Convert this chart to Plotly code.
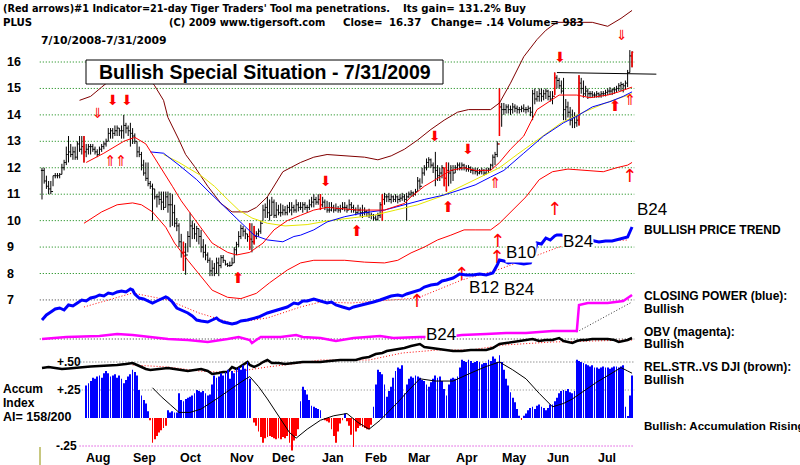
import plotly.graph_objects as go

# ---------------- DATA ----------------
# trading-day index 0 = 7/10/2008 ... 267 = 7/31/2009
high = [
 12.0, 12.0, 11.7, 11.5, 11.5, 11.7, 11.8, 11.8, 11.8, 12.15,
 12.3, 12.8, 13.2, 12.9, 12.8, 12.8, 13.0, 13.2, 13.2, 13.2,
 12.9, 12.9, 12.9, 12.9, 12.8, 12.7, 12.8, 12.9, 13.0, 13.1,
 13.5, 13.5, 13.5, 13.6, 13.6, 13.5, 13.6, 14.0, 13.7, 13.6,
 13.7, 13.5, 13.3, 13.0, 12.8, 12.6, 12.3, 12.2, 12.2, 11.5,
 11.4, 11.2, 11.0, 11.1, 11.1, 11.1, 11.1, 11.1, 11.05, 11.0,
 10.6, 10.1, 9.9, 9.5, 9.2, 9.15, 9.6, 10.3, 10.0, 9.9,
 9.8, 9.7, 9.65, 9.3, 9.1, 8.8, 8.6, 8.5, 8.4, 8.6,
 8.6, 8.7, 8.7, 8.5, 8.4, 8.45, 8.6, 9.0, 9.2, 9.6,
 9.85, 9.8, 9.7, 9.5, 9.9, 9.9, 9.8, 9.6, 9.7, 10.0,
 10.6, 10.65, 10.9, 10.8, 10.9, 10.8, 10.7, 10.6, 10.65, 10.6,
 10.55, 10.6, 10.7, 10.7, 10.6, 10.8, 10.7, 10.7, 10.7, 10.7,
 10.6, 10.8, 10.9, 11.0, 10.9, 11.0, 11.0, 10.9, 10.8, 10.75,
 10.7, 10.7, 10.6, 10.65, 10.55, 10.6, 10.7, 10.7, 10.6, 10.8,
 10.7, 10.6, 10.5, 10.6, 10.5, 10.6, 10.5, 10.4, 10.45, 10.3,
 10.25, 10.2, 10.3, 10.7, 11.0, 11.05, 11.0, 11.05, 11.0, 10.95,
 11.0, 10.95, 11.0, 11.05, 11.0, 11.05, 11.1, 11.15, 11.1, 11.2,
 11.65, 11.6, 12.0, 12.1, 12.35, 12.4, 12.35, 12.2, 12.6, 12.1,
 12.0, 12.1, 12.0, 12.2, 12.2, 12.1, 12.1, 12.1, 12.2, 12.2,
 12.2, 12.15, 12.1, 12.1, 12.05, 12.0, 12.0, 12.0, 11.95, 12.0,
 11.95, 12.0, 12.0, 12.15, 12.5, 12.6, 13.0, 15.0, 14.45, 14.45,
 14.4, 14.4, 14.35, 14.45, 14.4, 14.35, 14.3, 14.35, 14.4, 14.3,
 14.35, 14.3, 14.95, 15.0, 14.9, 15.0, 15.0, 14.95, 15.0, 14.95,
 14.9, 14.9, 15.6, 15.5, 15.4, 15.3, 15.4, 14.6, 14.5, 14.3,
 14.2, 14.1, 14.0, 15.5, 15.4, 15.3, 15.1, 15.0, 14.9, 14.9,
 14.85, 14.9, 14.85, 14.9, 14.9, 14.95, 15.0, 15.05, 15.0, 15.05,
 15.1, 15.2, 15.25, 15.2, 15.3, 15.7, 16.45, 16.4]
low = [
 10.8, 11.4, 11.2, 11.0, 11.0, 11.3, 11.6, 11.6, 11.6, 11.75,
 11.9, 12.1, 12.2, 12.4, 12.3, 12.3, 12.3, 12.6, 12.5, 12.2,
 12.4, 12.5, 12.5, 12.6, 12.5, 12.4, 12.5, 12.6, 12.7, 12.8,
 13.0, 13.1, 13.1, 13.2, 13.2, 13.2, 13.1, 13.1, 13.3, 13.2,
 12.8, 12.9, 12.9, 12.4, 12.4, 11.9, 11.7, 11.5, 11.3, 11.2,
 10.0, 10.8, 10.5, 10.6, 10.4, 10.4, 10.5, 10.3, 9.75, 9.8,
 9.75, 9.6, 9.0, 8.6, 8.1, 7.95, 8.8, 9.0, 9.3, 9.3,
 9.2, 9.1, 8.8, 8.6, 8.5, 8.4, 7.9, 7.9, 7.9, 8.0,
 7.9, 8.2, 8.4, 8.3, 8.25, 8.25, 8.3, 8.4, 8.7, 9.0,
 9.3, 9.4, 9.3, 9.2, 8.9, 8.8, 9.1, 9.3, 9.4, 9.5,
 10.0, 10.1, 10.1, 10.0, 10.2, 10.1, 10.1, 10.2, 10.15, 10.2,
 10.2, 10.2, 10.3, 10.2, 10.3, 10.3, 10.35, 10.4, 10.3, 10.4,
 10.3, 10.4, 10.5, 10.5, 10.6, 10.6, 10.4, 10.5, 10.4, 10.3,
 10.3, 10.35, 10.3, 10.35, 10.3, 10.3, 10.4, 10.35, 10.3, 10.4,
 10.3, 10.3, 10.2, 10.25, 10.15, 10.1, 10.2, 10.15, 10.1, 10.05,
 10.0, 10.0, 10.0, 10.1, 10.0, 10.6, 10.7, 10.7, 10.65, 10.7,
 10.7, 10.65, 10.7, 10.75, 10.7, 10.0, 10.85, 10.9, 10.9, 10.95,
 11.1, 11.2, 11.4, 11.7, 11.9, 12.0, 12.0, 11.8, 11.3, 11.5,
 11.5, 11.6, 11.3, 11.1, 11.3, 11.4, 11.5, 11.8, 11.9, 11.9,
 11.9, 11.9, 11.85, 11.85, 11.8, 11.75, 11.75, 11.7, 11.75, 11.75,
 11.7, 11.75, 11.8, 11.9, 12.0, 12.1, 12.4, 13.2, 13.55, 14.0,
 14.05, 14.05, 14.0, 14.05, 14.1, 14.05, 14.05, 14.1, 14.1, 14.05,
 14.1, 13.95, 13.8, 14.4, 14.5, 14.5, 14.5, 14.55, 14.6, 14.55,
 14.5, 14.4, 14.75, 15.0, 15.0, 14.8, 13.8, 13.8, 13.9, 13.6,
 13.5, 13.5, 13.55, 13.6, 14.8, 14.65, 14.7, 14.6, 14.65, 14.65,
 14.65, 14.65, 14.65, 14.65, 14.7, 14.7, 14.75, 14.75, 14.75, 14.8,
 14.85, 14.9, 14.9, 14.85, 14.95, 15.05, 15.6, 15.8]
close = [
 11.9, 11.5, 11.3, 11.2, 11.1, 11.7, 11.7, 11.7, 11.75, 12.0,
 12.2, 12.5, 12.6, 12.5, 12.6, 12.4, 12.9, 12.7, 12.8, 12.6,
 12.7, 12.8, 12.8, 12.7, 12.6, 12.5, 12.7, 12.8, 12.9, 13.0,
 13.3, 13.4, 13.3, 13.4, 13.5, 13.4, 13.4, 13.6, 13.5, 13.4,
 13.3, 13.2, 13.0, 12.6, 12.5, 12.1, 11.8, 11.6, 11.4, 11.3,
 11.2, 10.9, 10.9, 10.8, 10.7, 10.5, 10.9, 10.6, 10.6, 10.3,
 9.9, 9.8, 9.2, 8.8, 8.8, 8.7, 9.4, 9.8, 9.7, 9.5,
 9.7, 9.4, 9.0, 8.8, 8.7, 8.5, 8.1, 8.2, 8.0, 8.4,
 8.3, 8.6, 8.5, 8.35, 8.3, 8.3, 8.4, 8.9, 9.1, 9.4,
 9.7, 9.6, 9.5, 9.4, 9.3, 9.2, 9.4, 9.5, 9.6, 9.9,
 10.4, 10.5, 10.3, 10.2, 10.7, 10.2, 10.4, 10.3, 10.3, 10.4,
 10.3, 10.5, 10.4, 10.5, 10.4, 10.6, 10.5, 10.5, 10.6, 10.5,
 10.5, 10.6, 10.7, 10.8, 10.7, 10.8, 10.6, 10.7, 10.5, 10.4,
 10.4, 10.5, 10.4, 10.45, 10.4, 10.45, 10.5, 10.5, 10.4, 10.6,
 10.5, 10.4, 10.3, 10.4, 10.3, 10.3, 10.35, 10.3, 10.2, 10.2,
 10.1, 10.05, 10.2, 10.6, 10.8, 10.9, 10.9, 10.8, 10.9, 10.8,
 10.9, 10.8, 10.85, 10.9, 10.8, 10.9, 11.0, 11.05, 11.0, 11.1,
 11.5, 11.3, 11.8, 12.0, 12.2, 12.3, 12.1, 12.0, 11.9, 11.7,
 11.8, 12.0, 11.6, 11.9, 11.8, 11.9, 11.8, 12.0, 12.1, 12.0,
 12.1, 12.0, 11.95, 12.0, 11.9, 11.9, 11.85, 11.8, 11.85, 11.9,
 11.8, 11.9, 11.95, 12.1, 12.4, 12.5, 12.9, 14.3, 14.2, 14.2,
 14.3, 14.2, 14.2, 14.3, 14.25, 14.2, 14.2, 14.25, 14.2, 14.2,
 14.25, 14.1, 14.8, 14.6, 14.7, 14.8, 14.7, 14.8, 14.9, 14.7,
 14.6, 14.7, 15.4, 15.3, 15.1, 14.9, 14.2, 14.3, 14.1, 13.8,
 13.9, 13.7, 13.8, 15.2, 15.0, 14.8, 14.9, 14.8, 14.8, 14.75,
 14.75, 14.8, 14.75, 14.8, 14.8, 14.85, 14.9, 14.9, 14.95, 14.95,
 15.0, 15.1, 15.15, 15.1, 15.2, 15.6, 16.23, 16.37]
red_bar_idx = [19, 64, 94, 96, 126, 154, 182, 183, 207, 232, 243, 267]

# moving averages / bands (sampled, trading-day index -> price)
ma21_idx = [20, 28, 37, 42, 47, 52, 59, 63, 67, 72, 77, 84, 88, 94, 100, 105, 111, 117, 123, 129, 143,
            155, 164, 167, 173, 179, 185, 191, 196, 203, 207, 212, 218, 224, 230, 234, 242, 248, 256, 261, 267]
ma21_val = [12.2, 12.55, 13.0, 13.15, 12.9, 12.25, 11.3, 10.75, 10.3, 9.75, 9.15, 8.8, 8.7, 8.8, 9.15, 9.65,
            10.0, 10.2, 10.4, 10.5, 10.4, 10.4, 10.65, 10.9, 11.3, 11.6, 11.9, 12.0, 11.9, 11.9, 12.2, 12.7,
            13.2, 14.2, 14.55, 14.75, 14.75, 14.65, 14.75, 14.87, 15.05]
ma50_idx = [49, 55, 62, 70, 76, 84, 90, 96, 102, 109, 114, 117, 123, 129, 137, 146, 155, 164, 173, 182,
            191, 196, 203, 209, 218, 227, 236, 242, 249, 257, 263, 267]
ma50_val = [12.6, 12.55, 12.1, 11.55, 11.05, 10.4, 9.9, 9.45, 9.27, 9.2, 9.4, 9.45, 9.65, 9.95, 10.15, 10.3,
            10.4, 10.6, 10.8, 10.97, 11.2, 11.35, 11.65, 11.9, 12.55, 13.2, 13.7, 13.95, 14.3, 14.5, 14.7, 14.87]
ma65_idx = [55, 62, 72, 78, 84, 89, 95, 102, 110, 120, 130, 140, 150, 160, 170, 180, 190, 200, 207, 215,
            225, 235, 245, 255, 267]
ma65_val = [12.5, 12.2, 11.7, 11.3, 10.8, 10.4, 10.1, 9.9, 9.8, 9.85, 10.0, 10.1, 10.2, 10.4, 10.6, 10.9,
            11.3, 11.7, 12.0, 12.5, 13.1, 13.7, 14.1, 14.45, 14.8]
upper_idx = [17, 22, 27, 35, 45, 51, 55, 57, 62, 65, 69, 75, 81, 86, 93, 97, 102, 109, 117, 123, 129, 137,
             146, 152, 158, 164, 170, 176, 182, 188, 193, 203, 207, 212, 218, 224, 228, 233, 240, 249, 256, 262, 267]
upper_val = [14.55, 14.7, 15.05, 15.6, 15.8, 15.1, 14.55, 13.9, 13.05, 12.5, 12.05, 11.3, 10.65, 10.33, 10.33,
             10.5, 10.9, 11.85, 12.2, 12.4, 12.5, 12.45, 12.4, 12.3, 12.45, 12.7, 13.05, 13.45, 13.8, 14.1, 14.2,
             14.2, 14.45, 15.2, 16.2, 16.85, 17.2, 17.5, 17.5, 17.5, 17.35, 17.65, 17.95]
lower_idx = [19, 27, 34, 41, 45, 50, 56, 60, 66, 72, 77, 84, 90, 97, 103, 111, 117, 123, 129, 137, 146, 155,
             161, 167, 173, 179, 185, 191, 196, 203, 207, 213, 219, 225, 231, 238, 245, 254, 260, 265, 267]
lower_val = [9.9, 10.33, 10.6, 10.67, 10.6, 10.33, 9.75, 9.15, 8.5, 7.87, 7.37, 7.1, 7.05, 7.25, 7.65, 8.13,
             8.4, 8.5, 8.5, 8.5, 8.43, 8.4, 8.5, 8.78, 9.0, 9.27, 9.45, 9.65, 9.65, 9.65, 9.9, 10.4, 10.9, 11.55,
             11.85, 11.95, 11.9, 11.85, 12.0, 12.1, 12.2]
resist_idx = [233, 256, 278]
resist_val = [15.6, 15.58, 15.54]

# signal arrows (index, price)
dn_thick_idx = [32.1, 38.5, 128.5, 177.8, 192.8, 234.4]
dn_thick_val = [14.49, 14.49, 11.46, 13.13, 12.67, 16.15]
dn_double_idx = [25.3, 262.4]
dn_double_val = [14.03, 16.95]
up_double_idx = [30.8, 35.7, 205.0, 266.0]
up_double_val = [12.22, 12.22, 11.39, 14.53]
up_thick_idx = [88.7, 142.5, 183.7, 259.3]
up_thick_val = [7.79, 9.57, 10.48, 14.3]
up_thin_idx = [232.1, 266.0, 206.3, 205.9, 190.0, 169.7]
up_thin_val = [10.4, 11.65, 9.19, 8.55, 7.94, 6.92]

# Closing Power (blue) and its MA
cp_idx = [0, 2, 4, 6, 8, 10, 12, 14, 16, 18, 20, 22, 24, 26, 28, 30, 32, 34, 36, 38, 40, 41, 42, 44, 46, 48,
          50, 52, 54, 56, 57, 59, 61, 63, 66, 68, 70, 72, 75, 77, 79, 80, 82, 84, 86, 88, 90, 93, 95, 98, 102,
          105, 109, 111, 114, 116, 118, 120, 123, 126, 129, 131, 133, 136, 139, 141, 143, 145, 148, 150, 153,
          156, 158, 161, 163, 165, 168, 171, 173, 176, 179, 181, 183, 186, 189, 192, 195, 198, 201, 204, 206,
          207, 209, 211, 213, 215, 218, 221, 223, 224, 226, 228, 230, 232, 233, 235, 238, 240, 242, 245, 248,
          250, 252, 255, 258, 260, 262, 264, 265, 266, 267]
cp_val = [1.0, 1.5, 1.8, 2.1, 2.2, 2.0, 2.5, 2.4, 2.7, 3.0, 2.9, 3.2, 3.3, 3.5, 3.4, 3.7, 3.6, 3.8, 3.9, 3.8,
          4.1, 4.0, 3.6, 3.2, 3.1, 2.9, 2.7, 2.9, 3.1, 3.3, 3.2, 2.8, 2.2, 2.0, 1.7, 1.4, 1.0, 0.9, 0.8, 1.0,
          1.2, 1.0, 0.8, 0.7, 0.6, 0.7, 0.9, 1.0, 1.1, 1.3, 1.7, 1.9, 2.2, 2.3, 2.7, 2.6, 2.9, 2.9, 3.1, 2.9,
          2.7, 2.8, 2.5, 2.3, 2.1, 2.3, 2.4, 2.5, 2.7, 2.8, 3.0, 3.2, 3.4, 3.5, 3.4, 3.6, 3.8, 4.0, 4.3, 4.5,
          4.6, 4.9, 5.0, 5.2, 5.6, 5.5, 5.5, 5.6, 5.5, 5.7, 6.5, 7.0, 6.9, 6.7, 6.8, 6.7, 6.6, 6.7, 7.8, 8.7,
          8.6, 9.2, 9.0, 9.4, 9.5, 9.5, 9.3, 9.2, 9.4, 9.0, 9.1, 8.9, 8.8, 8.9, 8.9, 9.0, 9.1, 9.2, 9.3, 9.8, 10.3]
cpma_idx = [19, 41, 57, 71, 86, 102, 117, 126, 140, 170, 190, 206, 222, 234, 245, 265]
cpma_val = [2.3, 3.7, 3.0, 1.7, 0.7, 1.2, 2.3, 2.8, 2.7, 3.2, 5.0, 6.0, 7.3, 8.3, 8.8, 9.0]

# OBV (magenta)
obv_idx = [0, 11, 26, 34, 41, 49, 57, 66, 75, 84, 89, 94, 95, 99, 108, 115, 118, 126, 133, 141, 153, 159,
           171, 183, 190, 201, 210, 219, 231, 242, 243, 247, 256, 263, 267]
obv_val = [3.0, 4.0, 4.5, 5.5, 5.0, 4.0, 3.0, 2.5, 1.5, 3.0, 4.0, 2.5, 1.0, 4.0, 4.0, 5.0, 4.0, 3.5, 2.0, 3.5,
           4.5, 3.5, 4.0, 4.0, 5.0, 5.5, 6.0, 6.0, 7.0, 7.0, 20.0, 21.0, 21.0, 22.0, 25.0]
obv_trend_idx = [242, 267]
obv_trend_val = [6.5, 21.5]

# Relative strength vs DJI (black) and its MA
rs_idx = [0, 3, 6, 9, 12, 15, 19, 22, 26, 30, 34, 38, 41, 43, 45, 47, 49, 52, 55, 57, 60, 63, 66, 69, 72, 75,
          77, 80, 82, 84, 85, 86, 88, 90, 92, 93, 94, 96, 98, 100, 102, 104, 107, 110, 114, 118, 122, 126, 130,
          135, 139, 142, 145, 148, 151, 154, 156, 159, 162, 164, 167, 169, 171, 173, 176, 179, 181, 183, 186,
          190, 194, 198, 201, 204, 207, 210, 213, 216, 219, 222, 225, 228, 231, 234, 236, 238, 240, 242, 244,
          246, 249, 253, 256, 259, 261, 263, 265, 267]
rs_val = [6.0, 6.5, 6.0, 5.5, 5.8, 6.2, 6.5, 6.8, 7.0, 7.2, 7.5, 8.0, 8.5, 7.5, 6.5, 5.5, 5.0, 5.5, 6.0, 6.0,
          5.5, 5.0, 4.5, 5.0, 5.5, 4.5, 3.0, 3.5, 4.0, 4.0, 5.5, 6.5, 5.5, 7.0, 8.5, 9.0, 7.5, 6.5, 7.5, 9.0,
          10.0, 8.5, 8.5, 8.0, 8.5, 9.0, 9.0, 9.0, 9.5, 10.0, 10.0, 10.0, 11.0, 11.5, 13.0, 13.5, 14.5, 15.0,
          15.5, 16.0, 17.0, 17.5, 18.0, 16.5, 16.0, 15.5, 15.0, 15.0, 14.5, 14.5, 15.0, 15.0, 15.0, 16.0, 18.0,
          18.5, 19.0, 19.5, 20.0, 20.5, 19.5, 20.0, 20.0, 21.0, 19.5, 19.0, 18.5, 19.5, 20.0, 20.0, 20.5, 20.5,
          20.5, 20.0, 19.0, 19.5, 20.0, 21.0]
rsma_idx = [41, 57, 71, 79, 90, 102, 117, 126, 148, 163, 179, 194, 209, 231, 267]
rsma_val = [7.5, 6.5, 4.5, 4.0, 4.5, 6.5, 8.5, 10.0, 10.0, 13.5, 15.0, 15.0, 17.5, 19.0, 20.0]

# Accumulation Index (daily, index 20..267)
acc_start = 20
acc_val = [
 0.29, 0.31, 0.33, 0.36, 0.35, 0.37, 0.38, 0.36, 0.40, 0.42,
 0.40, 0.37, 0.38, 0.39, 0.36, 0.38, 0.35, 0.31, 0.34, 0.37,
 0.39, 0.43, 0.41, 0.38, 0.25, 0.20, 0.16, 0.13, 0.06, -0.02,
 -0.22, -0.19, -0.16, -0.13, -0.11, -0.09, -0.07, 0.07, 0.05, 0.06,
 0.05, 0.05, 0.22, 0.16, 0.15, 0.17, 0.18, 0.19, 0.20, 0.22,
 0.25, 0.24, 0.23, 0.24, 0.22, 0.20, 0.21, 0.30, 0.38, 0.36,
 0.37, 0.40, 0.38, 0.41, 0.43, 0.35, 0.42, 0.40, 0.44, 0.45,
 0.43, 0.47, 0.44, 0.50, 0.35, 0.00, -0.04, -0.07, -0.12, -0.17,
 -0.22, -0.18, -0.17, -0.16, -0.17, -0.18, -0.19, -0.18, -0.19, -0.17,
 -0.18, -0.16, -0.22, -0.29, -0.20, -0.16, -0.10, 0.15, 0.28, 0.25,
 0.21, 0.16, 0.11, 0.10, 0.09, 0.08, 0.07, 0.00, -0.02, -0.03,
 -0.04, -0.10, -0.16, -0.22, -0.12, -0.05, -0.02, 0.04, -0.03, -0.07,
 -0.15, -0.26, -0.12, -0.09, -0.07, -0.08, -0.09, -0.10, -0.10, -0.06,
 0.10, 0.30, 0.43, 0.41, 0.39, 0.30, 0.19, 0.24, 0.28, 0.36,
 0.42, 0.45, 0.44, 0.47, 0.22, 0.30, 0.35, 0.37, 0.36, 0.38,
 0.37, 0.36, 0.34, 0.33, 0.30, 0.28, 0.32, 0.35, 0.38, 0.36,
 0.37, 0.33, 0.26, 0.20, 0.30, 0.35, 0.36, 0.35, 0.37, 0.45,
 0.52, 0.51, 0.50, 0.52, 0.51, 0.49, 0.50, 0.51, 0.50, 0.48,
 0.49, 0.49, 0.52, 0.51, 0.55, 0.53, 0.50, 0.56, 0.50, 0.43,
 0.35, 0.29, 0.23, 0.18, 0.14, 0.08, 0.02, -0.01, 0.02, 0.04,
 0.07, 0.09, 0.10, 0.08, 0.11, 0.12, 0.10, 0.09, 0.07, 0.09,
 0.12, 0.12, 0.15, 0.18, 0.22, 0.24, 0.25, 0.24, 0.26, 0.23,
 0.22, 0.24, 0.52, 0.51, 0.50, 0.49, 0.48, 0.47, 0.46, 0.47,
 0.45, 0.45, 0.44, 0.45, 0.46, 0.45, 0.45, 0.44, 0.45, 0.46,
 0.46, 0.45, 0.46, 0.47, 0.10, 0.01, 0.20, 0.38]
accma_idx = [50, 54, 58, 62, 67, 72, 79, 86, 90, 94, 98, 102, 107, 112, 115, 120, 126, 132, 138, 143, 148,
             153, 157, 161, 166, 171, 178, 186, 195, 201, 207, 213, 219, 225, 231, 236, 240, 246, 251, 257,
             262, 265, 267]
accma_val = [0.27, 0.19, 0.12, 0.05, 0.05, 0.08, 0.17, 0.27, 0.32, 0.37, 0.28, 0.17, 0.02, -0.13, -0.18, -0.10,
             -0.02, 0.02, 0.04, -0.04, -0.10, -0.02, 0.06, 0.14, 0.25, 0.35, 0.33, 0.33, 0.41, 0.46, 0.50, 0.43,
             0.35, 0.22, 0.10, 0.13, 0.17, 0.25, 0.32, 0.39, 0.45, 0.42, 0.40]

price_ticks = [16, 15, 14, 13, 12, 11, 10, 9, 8, 7]
month_names = ["Aug", "Sep", "Oct", "Nov", "Dec", "Jan", "Feb", "Mar", "Apr", "May", "Jun", "Jul"]
month_start_idx = [16, 37, 58, 81, 100, 122, 142, 161, 183, 204, 224, 246]

# ---------------- FIGURE ----------------
W, H = 800, 465
FONT = "Liberation Sans, Arial, sans-serif"
HFONT = "DejaVu Sans, Verdana, sans-serif"
DOT = "1px,2px"


def px(x):
    return x / W


def py(y):
    return 1 - y / H


n = len(close)
idx = list(range(n))
open_ = [close[0]] + close[:-1]

fig = go.Figure()

# price grid
for p in price_ticks:
    fig.add_shape(type="line", xref="x", yref="y", x0=-1, x1=268, y0=p, y1=p, layer="below",
                  line=dict(color="#008000" if p != 7 else "#303030", width=1, dash=DOT))
# accumulation grid
for lv, c, x0 in [(0.5, "#606060", 16), (0.25, "#808080", 18), (-0.25, "#d000d0", 17)]:
    fig.add_shape(type="line", xref="x", yref="y5", x0=x0, x1=268, y0=lv, y1=lv, layer="below",
                  line=dict(color=c, width=1, dash=DOT))
# OBV reference
fig.add_shape(type="line", xref="x", yref="y3", x0=-1, x1=268, y0=3.0, y1=3.0, layer="below",
              line=dict(color="#303030", width=1, dash=DOT))


def line(x, y, color, width=1, dash=None, axis="y"):
    fig.add_trace(go.Scatter(x=x, y=y, mode="lines", yaxis=axis, hoverinfo="skip",
                             line=dict(color=color, width=width, dash=dash)))


line(upper_idx, upper_val, "#800000", 1)
line(lower_idx, lower_val, "#ff0000", 1)
line(ma65_idx, ma65_val, "#e6e600", 1)
line(ma50_idx, ma50_val, "#0000ff", 1)
line(ma21_idx, ma21_val, "#ff0000", 1)

fig.add_trace(go.Ohlc(x=idx, open=open_, high=high, low=low, close=close, tickwidth=0.5,
                      increasing=dict(line=dict(color="black", width=1)),
                      decreasing=dict(line=dict(color="black", width=1)), hoverinfo="skip"))
fig.add_trace(go.Ohlc(x=red_bar_idx, open=[open_[i] for i in red_bar_idx], high=[high[i] for i in red_bar_idx],
                      low=[low[i] for i in red_bar_idx], close=[close[i] for i in red_bar_idx], tickwidth=0.5,
                      increasing=dict(line=dict(color="#ff0000", width=1.5)),
                      decreasing=dict(line=dict(color="#ff0000", width=1.5)), hoverinfo="skip"))
line(resist_idx, resist_val, "black", 1)


def arrows(x, y, sym, size):
    fig.add_trace(go.Scatter(x=x, y=y, mode="text", text=[sym] * len(x), hoverinfo="skip",
                             textfont=dict(color="#ff0000", size=size, family="DejaVu Sans")))


arrows(dn_thick_idx, dn_thick_val, "⬇", 14)
arrows(dn_double_idx, dn_double_val, "⇓", 14)
arrows(up_double_idx, up_double_val, "⇑", 15)
arrows(up_thick_idx, up_thick_val, "⬆", 15)
arrows(up_thin_idx, up_thin_val, "↑", 18)

# closing power
line(cpma_idx, cpma_val, "#ff0000", 1, DOT, "y2")
line(cp_idx, cp_val, "#0000ff", 3, None, "y2")
# OBV
line(obv_trend_idx, obv_trend_val, "#303030", 1, DOT, "y3")
line(obv_idx, obv_val, "#ff00ff", 2.5, None, "y3")
# rel strength
line(rsma_idx, rsma_val, "#ff0000", 1, DOT, "y4")
line(rs_idx, rs_val, "black", 2.5, None, "y4")
# accumulation
acc_idx = list(range(acc_start, acc_start + len(acc_val)))
fig.add_trace(go.Bar(x=acc_idx, y=acc_val, width=0.36, yaxis="y5", hoverinfo="skip",
                     marker=dict(color=["#0000ff" if v >= 0 else "#ff0000" for v in acc_val], line=dict(width=0))))
line(accma_idx, accma_val, "black", 1, None, "y5")

ann = []


def txt(x, y, s, size=12, bold=True, anchor="left", color="black", family=FONT, bg=None):
    ann.append(dict(x=px(x), y=py(y), xref="paper", yref="paper", text=("<b>%s</b>" % s) if bold else s,
                    showarrow=False, xanchor=anchor, yanchor="middle", bgcolor=bg, borderpad=0,
                    font=dict(size=size, color=color, family=family)))


txt(2, 8, "(Red arrows)#1 Indicator=21-day Tiger Traders' Tool ma penetrations.", 9.75, family=HFONT)
txt(402, 8, "Its gain= 131.2% Buy", 10.2, family=HFONT)
txt(2, 23, "PLUS", 10.2, family=HFONT)
txt(168, 23, "(C) 2009 www.tigersoft.com", 9.9, family=HFONT)
txt(342, 23, "Close=", 10.2, family=HFONT)
txt(388, 23, "16.37", 10.2, family=HFONT)
txt(430, 23, "Change= .14 Volume= 983", 10.2, family=HFONT)
txt(40, 40, "7/10/2008-7/31/2009", 10.8, family=HFONT)

for p in price_ticks:
    ann.append(dict(x=px(5), y=p, xref="paper", yref="y", text="<b>%d</b>" % p, showarrow=False,
                    xanchor="left", yanchor="middle", font=dict(size=12.5, family=FONT, color="black")))
for m, s in zip(month_names, month_start_idx):
    ann.append(dict(x=s + 9.5, y=py(458), xref="x", yref="paper", text="<b>%s</b>" % m, showarrow=False,
                    xanchor="center", yanchor="middle", font=dict(size=12.5, family=FONT, color="black")))

txt(56, 362, "+.50", 12)
txt(56, 390, "+.25", 12)
txt(55, 446, "-.25", 12)
txt(2, 389, "Accum", 12)
txt(2, 403, "Index", 12)
txt(2, 417, "AI= 158/200", 12.5)

txt(468, 287, "B12", 17, False, bg="white")
txt(503, 289, "B24", 17, False, bg="white")
txt(505, 252, "B10", 17, False, bg="white")
txt(562, 241, "B24", 17, False, bg="white")
txt(636, 209, "B24", 17, False)
txt(425, 334, "B24", 17, False, bg="white")

txt(643, 230, "BULLISH PRICE TREND", 12)
txt(643, 296, "CLOSING POWER (blue):", 12)
txt(643, 309, "Bullish", 12)
txt(643, 332, "OBV (magenta):", 12)
txt(643, 344, "Bullish", 12)
txt(643, 367, "REL.STR..VS DJI (brown):", 12)
txt(643, 380, "Bullish", 12)
txt(643, 425, "Bullish: Accumulation Rising", 11.6)

# title box
fig.add_shape(type="rect", xref="paper", yref="paper", x0=px(86), x1=px(443), y0=py(84), y1=py(60),
              fillcolor="white", line=dict(color="black", width=1), layer="above")
ann.append(dict(x=px(264.5), y=py(72), xref="paper", yref="paper", text="<b>Bullish Special Situation - 7/31/2009</b>",
                showarrow=False, xanchor="center", yanchor="middle", font=dict(size=19.5, family=FONT, color="black")))
# small olive marker line at bottom-left
fig.add_shape(type="line", xref="paper", yref="paper", x0=px(40), x1=px(40), y0=py(465), y1=py(447),
              line=dict(color="#909000", width=1))

fig.update_layout(
    width=W, height=H, margin=dict(l=0, r=0, t=0, b=0), paper_bgcolor="white", plot_bgcolor="white",
    showlegend=False, barmode="overlay", annotations=ann, font=dict(family=FONT),
    xaxis=dict(range=[-19.0, 343.0], visible=False, rangeslider=dict(visible=False), fixedrange=True),
    yaxis=dict(range=[0.757, 18.345], visible=False, fixedrange=True),
    yaxis2=dict(range=[-13.5, 33], overlaying="y", visible=False, fixedrange=True),
    yaxis3=dict(range=[-60, 172.5], overlaying="y", visible=False, fixedrange=True),
    yaxis4=dict(range=[-42.5, 190], overlaying="y", visible=False, fixedrange=True),
    yaxis5=dict(range=[-0.4196, 3.7321], overlaying="y", visible=False, fixedrange=True),
)

fig.write_html("out.html")
